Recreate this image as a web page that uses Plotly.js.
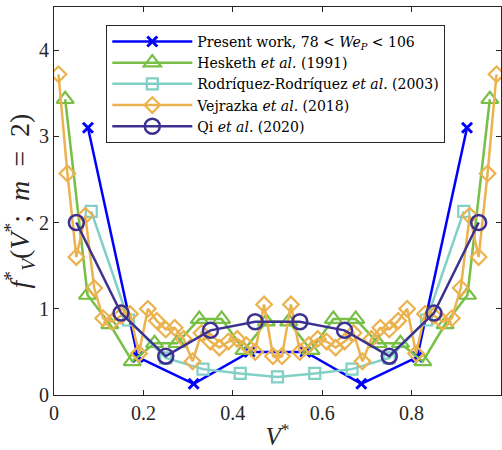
<!DOCTYPE html>
<html>
<head>
<meta charset="utf-8">
<script src="https://cdn.plot.ly/plotly-3.0.1.min.js"></script>
<style>
  html, body { margin: 0; padding: 0; background: #fff; }
  #chart { width: 502px; height: 450px; }
</style>
</head>
<body>
<div id="chart"></div>
<script>
// Bubble volume distribution f*_V(V*; m = 2): present work against literature data

var presentX = [0.076, 0.1875, 0.3125, 0.4375, 0.5625, 0.6875, 0.8125, 0.924];
var presentY = [3.10, 0.44, 0.13, 0.50, 0.50, 0.13, 0.44, 3.10];

var heskethX = [0.025, 0.075, 0.125, 0.175, 0.225, 0.275, 0.325, 0.375, 0.425, 0.475,
                0.525, 0.575, 0.625, 0.675, 0.725, 0.775, 0.825, 0.875, 0.925, 0.975];
var heskethY = [3.43, 1.16, 0.82, 0.39, 0.60, 0.60, 0.88, 0.88, 0.52, 0.85,
                0.85, 0.52, 0.88, 0.88, 0.60, 0.60, 0.39, 0.82, 1.16, 3.43];

var rodX = [0.0833, 0.1667, 0.25, 0.3333, 0.4167, 0.5, 0.5833, 0.6667, 0.75, 0.8333, 0.9167];
var rodY = [2.13, 0.87, 0.43, 0.30, 0.25, 0.21, 0.25, 0.30, 0.43, 0.87, 2.13];

var vejX = [0.01, 0.03, 0.05, 0.07, 0.09, 0.11, 0.13, 0.15, 0.17, 0.19,
            0.21, 0.23, 0.25, 0.27, 0.29, 0.31, 0.33, 0.35, 0.37, 0.39,
            0.41, 0.43, 0.45, 0.47, 0.49, 0.51, 0.53, 0.55, 0.57, 0.59,
            0.61, 0.63, 0.65, 0.67, 0.69, 0.71, 0.73, 0.75, 0.77, 0.79,
            0.81, 0.83, 0.85, 0.87, 0.89, 0.91, 0.93, 0.95, 0.97, 0.99];
var vejY = [3.72, 2.57, 1.60, 2.08, 1.24, 0.89, 0.85, 0.92, 0.94, 0.48,
            1.00, 0.86, 0.76, 0.78, 0.65, 0.39, 0.72, 0.62, 0.55, 0.62,
            0.65, 0.58, 0.50, 1.05, 0.45, 0.45, 1.05, 0.50, 0.58, 0.65,
            0.62, 0.55, 0.62, 0.72, 0.39, 0.65, 0.78, 0.76, 0.86, 1.00,
            0.48, 0.94, 0.92, 0.85, 0.89, 1.24, 2.08, 1.60, 2.57, 3.72];

var qiX = [0.05, 0.15, 0.25, 0.35, 0.45, 0.55, 0.65, 0.75, 0.85, 0.95];
var qiY = [2.00, 0.95, 0.45, 0.75, 0.85, 0.85, 0.75, 0.45, 0.95, 2.00];

var seriesNames = [
  'Present work, 78 &lt; <i>We<sub>P</sub></i> &lt; 106',
  'Hesketh <i>et al.</i> (1991)',
  'Rodríquez-Rodríquez <i>et al.</i> (2003)',
  'Vejrazka <i>et al.</i> (2018)',
  'Qi <i>et al.</i> (2020)'
];

var serif = 'Liberation Serif, Times New Roman, serif';
var legendSerif = 'DejaVu Serif, serif';
var axisColor = '#262626';
var lw = 2.5;
var sp = '\u2002';

var traces = [
  { x: presentX, y: presentY, name: seriesNames[0], mode: 'lines+markers',
    line: { color: '#0000FF', width: lw },
    marker: { symbol: 'x-thin-open', size: 10, line: { color: '#0000FF', width: 3 } } },
  { x: heskethX, y: heskethY, name: seriesNames[1], mode: 'lines+markers',
    line: { color: '#77BF45', width: lw },
    marker: { symbol: 'triangle-up-open', size: 15, color: '#77BF45', line: { width: 2.2 } } },
  { x: rodX, y: rodY, name: seriesNames[2], mode: 'lines+markers',
    line: { color: '#80D0C6', width: lw },
    marker: { symbol: 'square-open', size: 11, color: '#80D0C6', line: { width: 2.2 } } },
  { x: vejX, y: vejY, name: seriesNames[3], mode: 'lines+markers',
    line: { color: '#EBB24E', width: lw },
    marker: { symbol: 'diamond-open', size: 12, color: '#EBB24E', line: { width: 2.2 } } },
  { x: qiX, y: qiY, name: seriesNames[4], mode: 'lines+markers',
    line: { color: '#3D3190', width: lw },
    marker: { symbol: 'circle-open', size: 15, color: '#3D3190', line: { width: 2.5 } } }
];

var layout = {
  width: 502, height: 450,
  margin: { l: 54, r: 1, t: 7, b: 55 },
  paper_bgcolor: '#ffffff', plot_bgcolor: '#ffffff',
  font: { family: serif, size: 20, color: axisColor },
  showlegend: true,
  legend: {
    x: 0.117, y: 0.954, xanchor: 'left', yanchor: 'top',
    bgcolor: '#ffffff', bordercolor: axisColor, borderwidth: 1,
    font: { family: legendSerif, size: 14, color: '#000000' },
    itemwidth: 80, tracegroupgap: 0
  },
  xaxis: {
    range: [0, 1], tickvals: [0, 0.2, 0.4, 0.6, 0.8, 1],
    ticktext: ['0', '0.2', '0.4', '0.6', '0.8', '1'],
    ticks: 'inside', ticklen: 5, tickcolor: axisColor, tickwidth: 1,
    showline: true, linecolor: axisColor, linewidth: 1, mirror: 'ticks',
    showgrid: false, zeroline: false,
    title: { text: '<i>V</i><sup>*</sup>', font: { family: serif, size: 25, color: axisColor }, standoff: 6 }
  },
  yaxis: {
    range: [0, 4.5], tickvals: [0, 1, 2, 3, 4],
    ticks: 'inside', ticklen: 5, tickcolor: axisColor, tickwidth: 1,
    showline: true, linecolor: axisColor, linewidth: 1, mirror: 'ticks',
    showgrid: false, zeroline: false,
    title: {
      text: '<i>f</i><sup>*</sup><sub><i>V</i></sub>(<i>V</i><sup>*</sup>;' + sp + '<i>m</i>' + sp + '=' + sp + '2)',
      font: { family: serif, size: 28, color: axisColor }, standoff: 2
    }
  }
};

Plotly.newPlot('chart', traces, layout, { displayModeBar: false, staticPlot: true });
</script>
</body>
</html>
